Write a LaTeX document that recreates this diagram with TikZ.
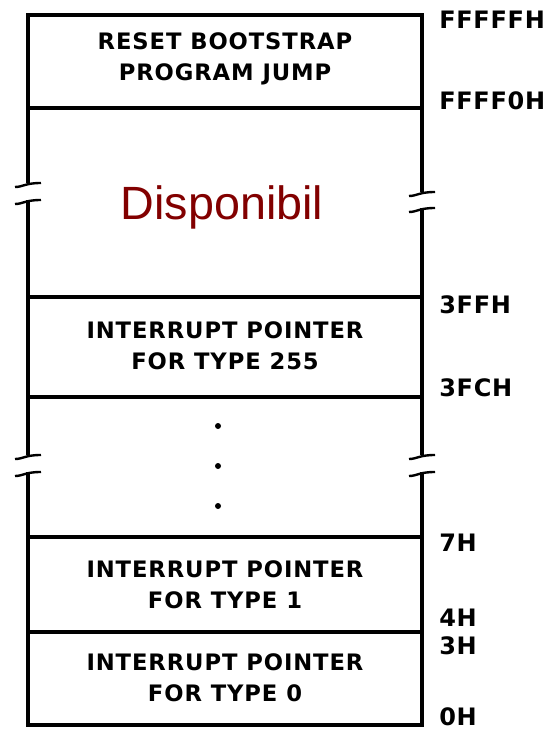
\documentclass[tikz,border=0pt]{standalone}
\usepackage{fontspec}
\setmainfont{Liberation Sans}
\newfontfamily\memfont{DejaVu Sans}[LetterSpace=4]
\newfontfamily\adrfont{DejaVu Sans}[LetterSpace=3]
\definecolor{freered}{RGB}{130,0,0}

\begin{document}
\begin{tikzpicture}[
  x=0.75pt, y=-0.75pt,
  wall/.style={line width=2.6pt},
  brk/.style={line width=1.8pt},
  cell/.style={font=\memfont\bfseries\fontsize{17}{23}\selectfont, align=center},
  freetxt/.style={font=\fontsize{35}{40}\selectfont, text=freered},
  adr/.style={font=\adrfont\bfseries\fontsize{18}{20}\selectfont, anchor=west, inner sep=0pt},
  dotmark/.style={circle, fill=black, inner sep=0pt, minimum size=4.5pt},
]
\useasboundingbox (0,0) rectangle (548,730);
% outline, broken at two places on each side
\draw[wall] (28,183) -- (28,15) -- (422,15) -- (422,192);
\draw[wall] (28,200) -- (28,455);
\draw[wall] (422,208) -- (422,455);
\draw[wall] (28,472) -- (28,725) -- (422,725) -- (422,472);
% row borders
\foreach \y in {108,297,397,537,632}
  \draw[wall] (28,\y) -- (422,\y);
% break marks
\foreach \x/\y in {28/183,28/200,422/192,422/208,28/455,28/472,422/455,422/472}
  \draw[brk] (\x-13,\y+4) .. controls (\x-5,\y+4) and (\x-3,\y) .. (\x+13,\y);

% cells
\node[cell] (reset) at (225,59) {RESET BOOTSTRAP\\PROGRAM JUMP};
\node[freetxt] (free) at (222,207) {Disponibil};
\node[cell] (int255) at (225,346) {INTERRUPT POINTER\\FOR TYPE 255};
\node[dotmark] (d1) at (218,426) {};
\node[dotmark] (d2) at (218,466) {};
\node[dotmark] (d3) at (218,506) {};
\node[cell] (int1) at (225,585) {INTERRUPT POINTER\\FOR TYPE 1};
\node[cell] (int0) at (225,678) {INTERRUPT POINTER\\FOR TYPE 0};

% addresses
\node[adr] (aFFFFF) at (439,20) {FFFFFH};
\node[adr] (aFFFF0) at (439,101) {FFFF0H};
\node[adr] (a3FF) at (439,305) {3FFH};
\node[adr] (a3FC) at (439,388) {3FCH};
\node[adr] (a7) at (439,543) {7H};
\node[adr] (a4) at (439,618) {4H};
\node[adr] (a3) at (439,646) {3H};
\node[adr] (a0) at (439,717) {0H};
\end{tikzpicture}
\end{document}
